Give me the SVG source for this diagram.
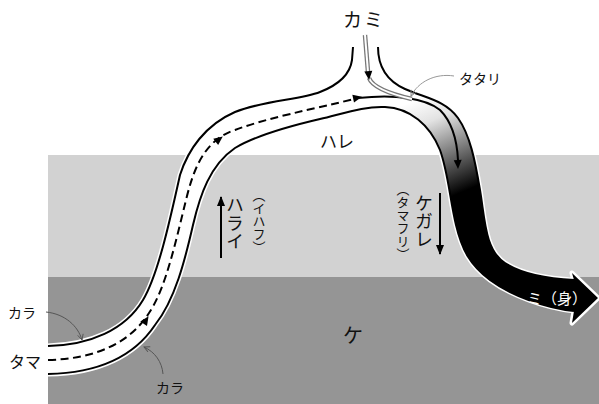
<svg xmlns="http://www.w3.org/2000/svg" width="599" height="404" viewBox="0 0 599 404">
<defs>
  <linearGradient id="fade" gradientUnits="userSpaceOnUse" x1="415" y1="100" x2="455" y2="195">
    <stop offset="0" stop-color="#ffffff"/>
    <stop offset="0.25" stop-color="#e2e2e2"/>
    <stop offset="1" stop-color="#000000"/>
  </linearGradient>
  <clipPath id="rightpart"><rect x="395" y="0" width="204" height="404"/></clipPath>
  <path id="tubeshape" d="M48,346 C90,345 125,330 143,300 C158,275 170,220 180,175 C188,150 205,125 235,112 C265,100 300,100 320,92 C338,85 350,75 352,60 L353,47 L378,47 C378,65 385,80 405,89 C425,98 445,100 458,118 C470,135 475,160 480,190 C485,220 485,250 505,263 C525,276 555,279 574,280 L572,273 L598,298 L572,323 L574,311 C545,308 510,295 490,280 C470,265 462,250 456,225 C450,200 448,172 440,150 C430,125 410,108 385,107 C365,106 345,113 320,119 C290,126 255,136 235,148 C210,165 200,195 193,225 C185,260 175,300 155,325 C135,355 100,373 48,374 Z"/>
  <path id="ah" d="M1,0 L-8,-4 L-8,4 Z"/>
  <marker id="vgray" viewBox="0 0 10 10" refX="9" refY="5" markerWidth="7" markerHeight="7" orient="auto" markerUnits="userSpaceOnUse">
    <path d="M1,1 L9,5 L1,9" fill="none" stroke="#888" stroke-width="1.3"/>
  </marker>
  <marker id="vdark" viewBox="0 0 10 10" refX="9" refY="5" markerWidth="7" markerHeight="7" orient="auto" markerUnits="userSpaceOnUse">
    <path d="M1,1 L9,5 L1,9" fill="none" stroke="#555" stroke-width="1.3"/>
  </marker>
  <marker id="blk" viewBox="0 0 10 10" refX="9" refY="5" markerWidth="10" markerHeight="8" orient="auto" markerUnits="userSpaceOnUse" preserveAspectRatio="none">
    <path d="M0,0 L10,5 L0,10 Z" fill="#000"/>
  </marker>
</defs>
<style>
  .jp{font-family:"Noto Sans CJK JP","Noto Sans CJK SC",sans-serif;fill:#111}
  .vt{writing-mode:vertical-rl}
  .ol{fill:none;stroke:#000;stroke-width:2}
  .dbl-o{fill:none;stroke:#777;stroke-width:4.5}
  .dbl-i{fill:none;stroke:#fff;stroke-width:2}
  .lead{fill:none;stroke:#555;stroke-width:1}
</style>

<g id="background">
  <rect x="48" y="155" width="551" height="123" fill="#d2d2d2"/>
  <rect x="48" y="277" width="551" height="127" fill="#959595"/>
</g>

<g id="tube">
  <use href="#tubeshape" fill="#fff" stroke="#fff" stroke-width="5" stroke-linejoin="round"/>
  <use href="#tubeshape" fill="url(#fade)" clip-path="url(#rightpart)"/>
  <path class="ol" d="M48,346 C90,345 125,330 143,300 C158,275 170,220 180,175 C188,150 205,125 235,112 C265,100 300,100 320,92 C338,85 350,75 352,60 L353,47"/>
  <path class="ol" d="M378,47 C378,65 385,80 405,89 C425,98 445,100 458,118 C470,135 475,160 480,190 C485,220 485,250 505,263 C525,276 555,279 574,280"/>
  <path class="ol" d="M48,374 C100,373 135,355 155,325 C175,300 185,260 193,225 C200,195 210,165 235,148 C255,136 290,126 320,119 C345,113 365,106 385,107 C410,108 430,125 440,150 C448,172 450,200 456,225 C462,250 470,265 490,280 C510,295 545,308 574,311"/>
</g>

<g id="connectors">
  <path d="M48,360 C95,359 130,343 149,313 C166,288 176,240 186,200 C194,167 205,140 235,130 C270,117 310,110 358,98" fill="none" stroke="#000" stroke-width="2" stroke-dasharray="8,4.5"/>
  <use href="#ah" transform="translate(148,317) rotate(-57)"/>
  <use href="#ah" transform="translate(222,137) rotate(-38)"/>
  <use href="#ah" transform="translate(361,97) rotate(-12)"/>
  <path d="M358,98 C395,94 425,98 440,110 C452,122 457,140 458,160" fill="none" stroke="#000" stroke-width="2"/>
  <use href="#ah" transform="translate(458,168) rotate(88)"/>
  <path class="dbl-o" d="M365,35 L368,72"/>
  <path class="dbl-i" d="M365,35 L368,72"/>
  <path class="dbl-o" d="M369,78 C372,86 386,93 412,99"/>
  <path class="dbl-i" d="M369,78 C372,86 386,93 412,99"/>
  <use href="#ah" transform="translate(369,79) rotate(85)"/>
  <path d="M454,76 C435,73 418,82 411,96" fill="none" stroke="#999" stroke-width="1" marker-end="url(#vgray)"/>
  <path class="lead" d="M46,312 C65,314 78,326 82,340" marker-end="url(#vdark)"/>
  <path class="lead" d="M163,374 C162,362 155,352 144,347" marker-end="url(#vdark)"/>
  <path d="M221,258 L221,197" stroke="#000" stroke-width="2" marker-end="url(#blk)"/>
  <path d="M440,193 L440,254" stroke="#000" stroke-width="2" marker-end="url(#blk)"/>
</g>

<g id="label-kami"><text class="jp" x="364" y="27" font-size="19" text-anchor="middle" letter-spacing="2">カミ</text></g>
<g id="label-tatari"><text class="jp" x="459" y="84" font-size="14">タタリ</text></g>
<g id="label-hare"><text class="jp" x="320" y="148" font-size="17">ハレ</text></g>
<g id="label-harai"><text class="jp vt" x="235" y="196" font-size="18">ハライ</text></g>
<g id="label-ihafu"><text class="jp vt" x="259" y="189" font-size="13">（イハフ）</text></g>
<g id="label-kegare"><text class="jp vt" x="424" y="194" font-size="18">ケガレ</text></g>
<g id="label-tamafuri"><text class="jp vt" x="403" y="183" font-size="13">（タマフリ）</text></g>
<g id="label-ke"><text class="jp" x="353" y="343" font-size="20" text-anchor="middle">ケ</text></g>
<g id="label-kara1"><text class="jp" x="8" y="318" font-size="14">カラ</text></g>
<g id="label-tama"><text class="jp" x="9" y="368" font-size="16">タマ</text></g>
<g id="label-kara2"><text class="jp" x="156" y="393" font-size="14">カラ</text></g>
<g id="label-mi"><text x="527" y="304" font-size="15" style="font-family:'Noto Sans CJK JP','Noto Sans CJK SC',sans-serif;fill:#fff">ミ（身）</text></g>
</svg>
